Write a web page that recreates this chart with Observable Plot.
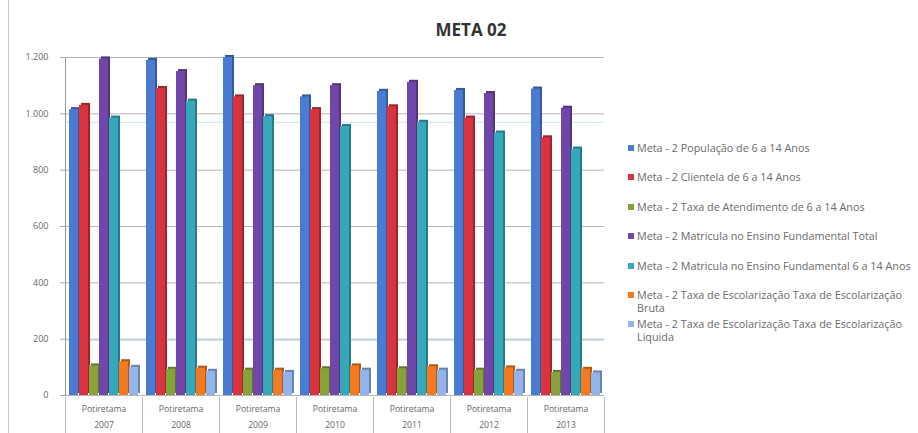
<!DOCTYPE html>
<html>
<head>
<meta charset="utf-8">
<script src="https://cdn.jsdelivr.net/npm/d3@7"></script>
<script src="https://cdn.jsdelivr.net/npm/@observablehq/plot@0.6"></script>
<style>
  body { margin: 0; background: #fff; }
  #wrap { position: relative; width: 918px; height: 433px; overflow: hidden; font-family: "Open Sans", sans-serif; }
  #title { position: absolute; left: 380px; width: 182px; top: 18px; text-align: center; font-weight: 700; font-size: 17px; color: #333; }
  #chart { position: absolute; left: 0; top: 48px; }
  #legend { position: absolute; left: 628px; top: 141px; width: 290px; font-size: 10.8px; color: #6a6a6a; }
  .item { display: flex; align-items: flex-start; height: 29.4px; line-height: 13px; }
  .sw { width: 6px; height: 6px; margin-top: 4px; margin-right: 3px; flex: none; }
  #border { position: absolute; left: 8px; top: 0; width: 1px; height: 433px; background: #c8c8c8; }
</style>
</head>
<body>
<div id="wrap">
  <div id="border"></div>
  <div id="title">META 02</div>
  <div id="chart"></div>
  <div id="legend"></div>
</div>
<script>
const years = ["2007", "2008", "2009", "2010", "2011", "2012", "2013"];
const place = "Potiretama";
const seriesNames = [
  "Meta - 2 População de  6 a 14 Anos",
  "Meta - 2 Clientela de  6 a 14 Anos",
  "Meta - 2 Taxa de Atendimento de  6 a 14 Anos",
  "Meta - 2 Matricula no Ensino Fundamental Total",
  "Meta - 2 Matricula no Ensino Fundamental 6 a 14 Anos",
  "Meta - 2 Taxa de Escolarização Taxa de Escolarização Bruta",
  "Meta - 2 Taxa de Escolarização Taxa de Escolarização Liquida"
];
const seriesColors = ["#4a7bd2", "#d9333f", "#86a33b", "#7047a9", "#37a8ba", "#f47a22", "#92b4ea"];
const populacao   = [1015, 1190, 1200, 1060, 1080, 1083, 1088];
const clientela   = [1030, 1090, 1060, 1015, 1025, 985, 915];
const taxaAtend   = [105, 93, 90, 95, 95, 90, 82];
const matTotal    = [1195, 1150, 1100, 1100, 1112, 1072, 1020];
const mat614      = [985, 1045, 990, 955, 970, 932, 875];
const taxaBruta   = [120, 97, 90, 105, 102, 98, 93];
const taxaLiquida = [100, 86, 82, 90, 90, 86, 80];
const yTicks = [0, 200, 400, 600, 800, 1000, 1200];
const refLines = [970, 195];

const seriesValues = [populacao, clientela, taxaAtend, matTotal, mat614, taxaBruta, taxaLiquida];
const data = [];
years.forEach((yr, i) => {
  seriesNames.forEach((s, k) => {
    data.push({year: yr, series: s, value: seriesValues[k][i], color: seriesColors[k],
               dark: d3.color(seriesColors[k]).darker(0.9).formatHex()});
  });
});

const fmt = d3.formatLocale({decimal: ",", thousands: ".", grouping: [3], currency: ["", ""]}).format(",d");

const chart = Plot.plot({
  width: 620,
  height: 385,
  marginTop: 9,
  marginLeft: 63,
  marginRight: 15,
  marginBottom: 38,
  style: {fontFamily: "'Open Sans', sans-serif", fontSize: "9px", background: "transparent"},
  fx: {domain: years, padding: 0, label: null, axis: null},
  x: {domain: seriesNames, paddingInner: 0.1, paddingOuter: 0.3, axis: null},
  y: {domain: [0, 1200], label: null},
  color: {type: "identity"},
  marks: [
    Plot.gridY(yTicks, {stroke: "#b5b5b5", strokeOpacity: 1}),
    Plot.axisY(yTicks, {tickFormat: fmt, tickSize: 5, tickPadding: 12, stroke: "#aaa", fill: "#666", label: null}),
    Plot.ruleY(refLines, {stroke: "#c4e6f6", strokeWidth: 1}),
    Plot.barY(data, {fx: "year", x: "series", y: "value", fill: "dark", dx: 2, dy: -2}),
    Plot.barY(data, {fx: "year", x: "series", y: "value", fill: "color"}),
    Plot.axisFx({anchor: "bottom", tickSize: 0, tickPadding: 6, tickFormat: d => `${place}\n${d}`, lineHeight: 1.8, fontSize: 8.6, fill: "#666", label: null}),
    Plot.frame({anchor: "left", stroke: "#bbb", insetTop: 340, insetBottom: -38}),
    Plot.frame({anchor: "right", stroke: "#bbb", insetTop: 340, insetBottom: -38}),
    Plot.frame({anchor: "left", facet: "super", stroke: "#999"})
  ]
});
document.getElementById("chart").appendChild(chart);

const legend = document.getElementById("legend");
seriesNames.forEach((s, k) => {
  const item = document.createElement("div");
  item.className = "item";
  const sw = document.createElement("div");
  sw.className = "sw";
  sw.style.background = seriesColors[k];
  const t = document.createElement("div");
  t.textContent = s;
  item.appendChild(sw);
  item.appendChild(t);
  legend.appendChild(item);
});
</script>
</body>
</html>
